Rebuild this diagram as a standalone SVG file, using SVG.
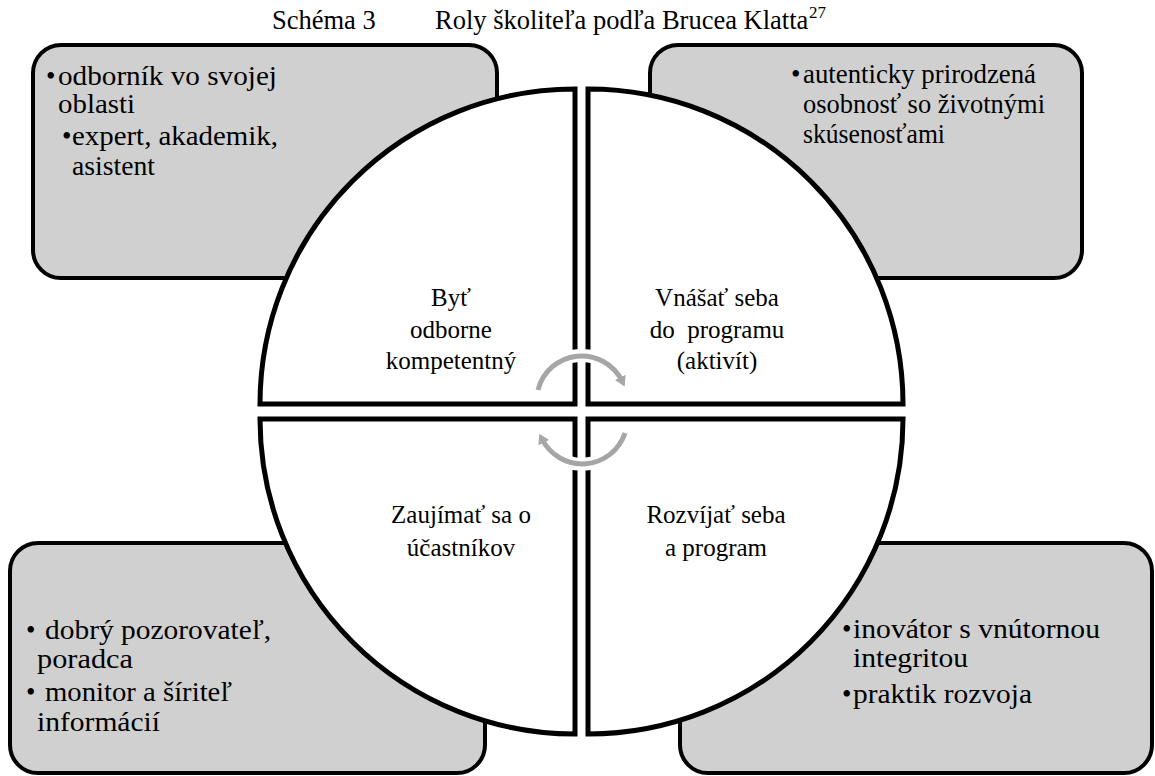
<svg xmlns="http://www.w3.org/2000/svg" width="1155" height="776" viewBox="0 0 1155 776" font-family="'Liberation Serif', 'DejaVu Serif', serif">
<defs>
<style>
text{font-family:"Liberation Serif","DejaVu Serif",serif;fill:#000}
.title{font-size:26.5px}
.sup{font-size:17px}
.q{font-size:25px;text-anchor:middle}
.b{font-size:27px}
.box{fill:#d0d0d0;stroke:#000;stroke-width:4}
.quad{fill:#fff;stroke:#000;stroke-width:5;stroke-linejoin:miter}
.halo{fill:none;stroke:#fff;stroke-width:13}
.arc{fill:none;stroke:#a6a6a6;stroke-width:5}
</style>
<marker id="ah" markerUnits="userSpaceOnUse" markerWidth="14" markerHeight="14" refX="4" refY="6" orient="auto">
<path d="M0,0 L10,6 L0,12 Z" fill="#a6a6a6"/>
</marker>
</defs>
<rect width="1155" height="776" fill="#fff"/>
<g id="title" font-family="'Liberation Serif', 'DejaVu Serif', serif">
<text class="title" x="272" y="29">Schéma 3</text>
<text class="title" x="435" y="29">Roly školiteľa podľa Brucea Klatta</text>
<text class="sup" x="809" y="18">27</text>
</g>
<g id="box-tl" font-family="'Liberation Serif', 'DejaVu Serif', serif">
<rect class="box" x="33" y="45" width="464" height="233" rx="28"/>
<text class="b" x="46" y="85">•</text>
<text class="b" x="58" y="85" textLength="219" lengthAdjust="spacingAndGlyphs">odborník vo svojej</text>
<text class="b" x="58" y="113" textLength="77" lengthAdjust="spacingAndGlyphs">oblasti</text>
<text class="b" x="62" y="145">•</text>
<text class="b" x="72" y="145" textLength="206" lengthAdjust="spacingAndGlyphs">expert, akademik,</text>
<text class="b" x="72" y="175" textLength="83" lengthAdjust="spacingAndGlyphs">asistent</text>
</g>
<g id="box-tr" font-family="'Liberation Serif', 'DejaVu Serif', serif">
<rect class="box" x="650" y="45" width="432" height="233" rx="28"/>
<text class="b" x="791" y="83">•</text>
<text class="b" x="803" y="83" textLength="233" lengthAdjust="spacingAndGlyphs">autenticky prirodzená</text>
<text class="b" x="803" y="113" textLength="242" lengthAdjust="spacingAndGlyphs">osobnosť so životnými</text>
<text class="b" x="803" y="143" textLength="142" lengthAdjust="spacingAndGlyphs">skúsenosťami</text>
</g>
<g id="box-bl" font-family="'Liberation Serif', 'DejaVu Serif', serif">
<rect class="box" x="10" y="543" width="475" height="230" rx="28"/>
<text class="b" x="26" y="639">•</text>
<text class="b" x="45" y="639" textLength="226" lengthAdjust="spacingAndGlyphs">dobrý pozorovateľ,</text>
<text class="b" x="37" y="668" textLength="96" lengthAdjust="spacingAndGlyphs">poradca</text>
<text class="b" x="26" y="701">•</text>
<text class="b" x="45" y="701" textLength="187" lengthAdjust="spacingAndGlyphs">monitor a šíriteľ</text>
<text class="b" x="37" y="731" textLength="123" lengthAdjust="spacingAndGlyphs">informácií</text>
</g>
<g id="box-br" font-family="'Liberation Serif', 'DejaVu Serif', serif">
<rect class="box" x="680" y="543" width="472" height="230" rx="28"/>
<text class="b" x="842" y="638">•</text>
<text class="b" x="853" y="638" textLength="247" lengthAdjust="spacingAndGlyphs">inovátor s vnútornou</text>
<text class="b" x="853" y="667" textLength="115" lengthAdjust="spacingAndGlyphs">integritou</text>
<text class="b" x="842" y="703">•</text>
<text class="b" x="853" y="703" textLength="179" lengthAdjust="spacingAndGlyphs">praktik rozvoja</text>
</g>
<g id="quad-tl" font-family="'Liberation Serif', 'DejaVu Serif', serif">
<path class="quad" d="M575,404 H260 A315,315 0 0 1 575,89 Z"/>
<text class="q" x="451" y="306">Byť</text>
<text class="q" x="451" y="338">odborne</text>
<text class="q" x="451" y="369">kompetentný</text>
</g>
<g id="quad-tr" font-family="'Liberation Serif', 'DejaVu Serif', serif">
<path class="quad" d="M588,404 V89 A315,315 0 0 1 903,404 Z"/>
<text class="q" x="717" y="306">Vnášať seba</text>
<text class="q" x="717" y="338" xml:space="preserve">do  programu</text>
<text class="q" x="717" y="369">(aktivít)</text>
</g>
<g id="quad-bl" font-family="'Liberation Serif', 'DejaVu Serif', serif">
<path class="quad" d="M575,419 V734 A315,315 0 0 1 260,419 Z"/>
<text class="q" x="461" y="523">Zaujímať sa o</text>
<text class="q" x="461" y="556">účastníkov</text>
</g>
<g id="quad-br" font-family="'Liberation Serif', 'DejaVu Serif', serif">
<path class="quad" d="M588,419 H903 A315,315 0 0 1 588,734 Z"/>
<text class="q" x="716" y="523">Rozvíjať seba</text>
<text class="q" x="716" y="556">a program</text>
</g>
<g id="connectors">
<path class="halo" d="M538,390 A45,45 0 0 1 624,385"/>
<path class="halo" d="M625,433 A45,45 0 0 1 540,435"/>
<path class="arc" d="M538,390 A45,45 0 0 1 622,381" marker-end="url(#ah)"/>
<path class="arc" d="M625,433 A45,45 0 0 1 542,439" marker-end="url(#ah)"/>
</g>
</svg>
